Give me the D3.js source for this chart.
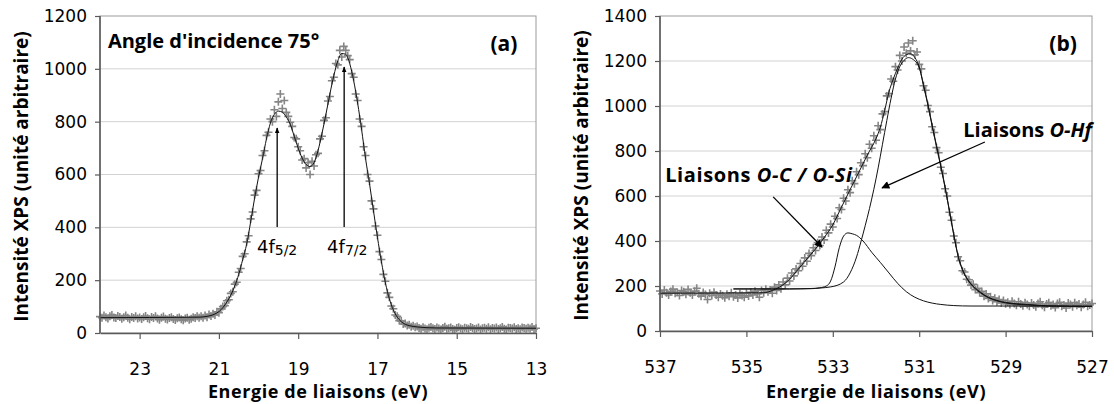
<!DOCTYPE html>
<html>
<head>
<meta charset="utf-8">
<script src="https://cdn.jsdelivr.net/npm/d3@7"></script>
<style>
  body { margin: 0; background: #fff; }
  .tick text { font-family: "DejaVu Sans", Verdana, sans-serif; font-size: 17px; fill: #000; }
  .lbl { font-family: "Open Sans", sans-serif; font-weight: 700; fill: #000; }
  .num { font-family: "DejaVu Sans", Verdana, sans-serif; fill: #000; }
</style>
</head>
<body>
<svg id="chart" width="1114" height="404"></svg>
<script>
// ---- panel (a) : Hf 4f ----
var aStart = 24, aStep = 0.05;   // energy grid of the measured points (eV)
var aCounts = [
  62, 58, 66, 60, 55, 63, 68, 59, 57, 64, 61, 54, 60, 66, 58, 52, 61, 57, 63, 55,
  59, 53, 60, 64, 56, 52, 61, 57, 63, 55, 50, 58, 62, 54, 51, 57, 60, 53, 49, 56,
  59, 52, 48, 55, 58, 50, 54, 60, 57, 63, 58,
  63, 58, 66, 60, 70, 64, 73, 68, 80, 77, 92, 100, 103, 122, 126, 150, 156, 185, 192, 230,
  244, 290, 300, 345, 368, 432, 458, 522, 540, 603, 615, 672, 690, 748, 760, 810, 800, 845, 820, 875,
  905, 850, 880, 835, 820, 798, 782, 740, 735, 705, 690, 655, 660, 625, 645, 600, 650, 632, 675, 680,
  735, 745, 805, 815, 878, 895, 955, 968, 1020, 1015, 1070, 1045, 1085, 1070, 1050, 1035, 982, 968, 905, 880,
  810, 782, 705, 672, 600, 575, 500, 470, 405, 370, 308, 278, 222, 196, 152, 135, 102, 92, 68, 63,
  47, 45, 34, 36, 28, 31, 24, 27, 22, 25,
  19, 16, 22, 17, 14, 20, 23, 18, 15, 21, 17, 13, 19, 24, 16, 18, 21, 15, 12, 19,
  22, 17, 14, 20, 18, 16, 23, 19, 15, 17, 21, 13, 18, 20, 16, 22, 14, 19, 17, 21,
  15, 18, 23, 16, 13, 20, 19, 17, 22, 15, 18, 14, 21, 19, 16, 20, 17, 23, 15, 18
];
var aFitE = [24, 21.5, 21.3, 21.1, 21.0, 20.9, 20.8, 20.7, 20.6, 20.5, 20.4, 20.3, 20.2, 20.1, 20.0,
  19.9, 19.8, 19.7, 19.6, 19.5, 19.4, 19.3, 19.2, 19.1, 19.0, 18.9, 18.8, 18.7, 18.6, 18.5, 18.4, 18.3,
  18.2, 18.1, 18.0, 17.9, 17.8, 17.7, 17.6, 17.5, 17.4, 17.3, 17.2, 17.1, 17.0, 16.9, 16.8, 16.7, 16.6,
  16.5, 16.4, 16.3, 16.2, 16.0, 15.5, 13];
var aFitI = [58, 60, 63, 72, 81, 96, 117, 143, 178, 222, 278, 336, 420, 510, 590,
  660, 735, 795, 828, 840, 836, 818, 790, 745, 700, 662, 638, 630, 645, 690, 755, 828,
  905, 975, 1030, 1058, 1055, 1020, 955, 870, 770, 660, 565, 462, 362, 270, 190, 130, 88,
  60, 43, 33, 28, 23, 19, 18];
var aXTicks = [23, 21, 19, 17, 15, 13];
var aYTicks = [0, 200, 400, 600, 800, 1000, 1200];

// ---- panel (b) : O 1s ----
var bStart = 537, bStep = 0.05;
var bCounts = [
  178, 165, 182, 170, 160, 176, 186, 168, 172, 158, 180, 174, 163, 185, 170, 160, 177, 190, 166, 155,
  171, 162, 140, 168, 158, 172, 160, 150, 165, 157, 148, 163, 155, 170, 152, 160, 147, 166, 158, 150,
  168, 156, 172, 160, 177, 165, 150, 180, 170, 186, 174,
  182, 168, 195, 180, 205, 188, 218, 205, 235, 222, 258, 245, 276, 268, 300, 288, 325, 310, 345, 335,
  370, 358, 392, 380, 418, 405, 448, 436, 475, 462, 510, 500, 548, 540, 590, 578, 628, 615, 668, 655,
  708, 695, 748, 735, 788, 770, 830, 812, 868, 848, 912, 895, 965, 975, 1045, 1055, 1120, 1110, 1175, 1160,
  1225, 1200, 1262, 1235, 1280, 1245, 1290, 1228, 1240, 1185, 1165, 1090, 1070, 1002, 975, 908, 882, 815, 792, 728,
  700, 632, 600, 528, 492, 422, 392, 330, 312, 268, 262, 230, 228, 204, 208, 184, 190, 170, 176, 155,
  165, 145, 152, 136, 146, 130, 140, 125, 136, 121,
  128, 118, 132, 122, 115, 130, 120, 112, 126, 118, 110, 124, 116, 108, 122, 130, 114, 106, 120, 126,
  112, 118, 104, 122, 128, 110, 116, 102, 124, 118, 108, 126, 114, 120, 106, 118, 128, 110, 116, 122
];
var bFitE = [537, 534.6, 534.4, 534.2, 534.0, 533.8, 533.6, 533.4, 533.2, 533.0, 532.8, 532.6, 532.4,
  532.2, 532.0, 531.9, 531.8, 531.7, 531.6, 531.5, 531.4, 531.3, 531.2, 531.1, 531.0, 530.9, 530.8,
  530.7, 530.6, 530.5, 530.4, 530.3, 530.2, 530.1, 530.0, 529.9, 529.8, 529.6, 529.4, 529.2, 529.0,
  528.5, 528, 527];
var bFitI = [168, 170, 180, 199, 230, 275, 320, 365, 415, 472, 550, 628, 705,
  782, 855, 905, 980, 1062, 1120, 1168, 1208, 1228, 1232, 1215, 1175, 1095, 1010,
  915, 825, 735, 640, 535, 430, 335, 275, 236, 210, 175, 150, 136, 127,
  118, 112, 110];
// component O-C / O-Si
var ocE = [535.3, 534.0, 533.5, 533.3, 533.15, 533.05, 532.95, 532.85, 532.75, 532.65, 532.55, 532.45,
  532.3, 532.1, 531.9, 531.7, 531.5, 531.3, 531.1, 530.9, 530.7, 530.5, 530.2, 529.8, 529.1, 527];
var ocI = [187, 187, 188, 192, 200, 222, 285, 370, 422, 436, 432, 425,
  400, 350, 305, 258, 212, 175, 150, 134, 124, 118, 113, 111, 111, 110];
// component O-Hf
var ohE = [535.3, 534.0, 533.5, 533.05, 532.75, 532.6, 532.45, 532.35, 532.25, 532.15, 532.05, 531.95,
  531.85, 531.75, 531.65, 531.55, 531.45, 531.35, 531.25, 531.15, 531.0, 530.9, 530.8, 530.7, 530.6,
  530.5, 530.4, 530.3, 530.2, 530.1, 530.0, 529.9, 529.8, 529.6, 529.4, 529.2, 529.0, 528.5, 528, 527];
var ohI = [187, 187, 189, 196, 218, 258, 329, 396, 468, 545, 630, 725,
  830, 935, 1035, 1120, 1175, 1203, 1215, 1208, 1170, 1090, 1005, 910, 820,
  730, 636, 532, 427, 332, 272, 233, 207, 172, 148, 134, 125, 116, 111, 109];
var bXTicks = [537, 535, 533, 531, 529, 527];
var bYTicks = [0, 200, 400, 600, 800, 1000, 1200, 1400];

var svg = d3.select("#chart");

// arrow heads
var defs = svg.append("defs");
defs.append("marker").attr("id", "headS")
  .attr("viewBox", "0 0 10 10").attr("refX", 9).attr("refY", 5)
  .attr("markerWidth", 6).attr("markerHeight", 6).attr("markerUnits", "userSpaceOnUse")
  .attr("orient", "auto")
  .append("path").attr("d", "M0,1L10,5L0,9z").attr("fill", "#000");
defs.append("marker").attr("id", "headB")
  .attr("viewBox", "0 0 10 10").attr("refX", 9).attr("refY", 5)
  .attr("markerWidth", 10).attr("markerHeight", 8).attr("markerUnits", "userSpaceOnUse")
  .attr("orient", "auto")
  .append("path").attr("d", "M0,0L10,5L0,10z").attr("fill", "#000");

function drawPanel(p) {
  var x = d3.scaleLinear().domain(p.xDomain).range([p.left, p.right]);
  var y = d3.scaleLinear().domain([0, p.yMax]).range([p.bottom, p.top]);
  var g = svg.append("g");

  // gridlines
  g.selectAll("line.grid")
    .data(p.yTicks.filter(function(v) { return v > 0 && v < p.yMax; }))
    .enter().append("line")
    .attr("class", "grid")
    .attr("x1", p.left).attr("x2", p.right)
    .attr("y1", function(d) { return y(d); }).attr("y2", function(d) { return y(d); })
    .attr("stroke", "#d2d2d2").attr("stroke-width", 1);

  // plot area border
  g.append("rect")
    .attr("x", p.left).attr("y", p.top)
    .attr("width", p.right - p.left).attr("height", p.bottom - p.top)
    .attr("fill", "none").attr("stroke", "#9a9a9a").attr("stroke-width", 1);

  // measured points
  var pts = p.counts.map(function(v, i) { return [p.start - i * p.step, v]; });
  g.selectAll("path.pt").data(pts).enter().append("path")
    .attr("class", "pt")
    .attr("transform", function(d) { return "translate(" + x(d[0]) + "," + y(d[1]) + ")"; })
    .attr("d", "M-4,0H4M0,-4V4")
    .attr("stroke", "#858585").attr("stroke-width", 1.6).attr("fill", "none");

  // fitted curves
  var line = d3.line()
    .x(function(d) { return x(d[0]); })
    .y(function(d) { return y(d[1]); })
    .curve(d3.curveMonotoneX);
  p.curves.forEach(function(c) {
    var data = c.e.map(function(e, i) { return [e, c.i[i]]; });
    g.append("path").datum(data)
      .attr("d", line)
      .attr("fill", "none").attr("stroke", "#111").attr("stroke-width", 1);
  });

  // axes
  var yAxis = d3.axisLeft(y).tickValues(p.yTicks).tickFormat(d3.format("d"))
    .tickSize(5).tickPadding(8);
  var ya = g.append("g").attr("transform", "translate(" + p.left + ",0)").call(yAxis);
  var xAxis = d3.axisBottom(x).tickValues(p.xTicks).tickFormat(d3.format("d"))
    .tickSize(6).tickPadding(24).tickSizeOuter(0);
  var xa = g.append("g").attr("transform", "translate(0," + p.bottom + ")").call(xAxis);
  [ya, xa].forEach(function(a) {
    a.select(".domain").attr("stroke", "#5a5a5a").attr("stroke-width", 1.6);
    a.selectAll(".tick line").attr("stroke", "#5a5a5a").attr("stroke-width", 1.2);
  });
  ya.select(".domain").attr("d", "M0," + p.top + "V" + p.bottom);

  // axis titles
  g.append("text").attr("class", "lbl")
    .attr("x", (p.left + p.right) / 2).attr("y", 398)
    .attr("text-anchor", "middle").style("font-size", "18px").style("letter-spacing", "0.6px")
    .text("Energie de liaisons (eV)");
  g.append("text").attr("class", "lbl")
    .attr("transform", "translate(" + p.yTitleX + "," + ((p.top + p.bottom) / 2 + 2) + ") rotate(-90)")
    .attr("text-anchor", "middle").style("font-size", "19px")
    .text("Intensité XPS (unité arbitraire)");

  // panel letter
  g.append("text").attr("class", "lbl")
    .attr("x", x(p.letterAt[0])).attr("y", y(p.letterAt[1]))
    .attr("text-anchor", "middle").style("font-size", "21px")
    .text(p.letter);

  p.extra(g, x, y);
}

drawPanel({
  left: 100, right: 536, top: 16, bottom: 333,
  xDomain: [24, 13], yMax: 1200,
  xTicks: aXTicks, yTicks: aYTicks,
  start: aStart, step: aStep, counts: aCounts,
  curves: [{ e: aFitE, i: aFitI }],
  yTitleX: 28, letter: "(a)", letterAt: [13.81, 1067],
  extra: function(g, x, y) {
    g.append("text").attr("class", "lbl")
      .attr("x", x(23.8)).attr("y", y(1079)).style("font-size", "20px")
      .text("Angle d'incidence 75°");
    // peak arrows
    [[19.53, 776], [17.84, 1007]].forEach(function(a) {
      g.append("line")
        .attr("x1", x(a[0])).attr("x2", x(a[0]))
        .attr("y1", y(401)).attr("y2", y(a[1]))
        .attr("stroke", "#000").attr("stroke-width", 1.3)
        .attr("marker-end", "url(#headS)");
    });
    [[20.04, "5/2"], [18.27, "7/2"]].forEach(function(l) {
      var t = g.append("text").attr("class", "num")
        .attr("x", x(l[0])).attr("y", y(303)).style("font-size", "18px");
      t.append("tspan").text("4f");
      t.append("tspan").attr("dy", 2).style("font-size", "14px").text(l[1]);
    });
  }
});

drawPanel({
  left: 660, right: 1092, top: 16, bottom: 331,
  xDomain: [537, 527], yMax: 1400,
  xTicks: bXTicks, yTicks: bYTicks,
  start: bStart, step: bStep, counts: bCounts,
  curves: [{ e: bFitE, i: bFitI }, { e: ocE, i: ocI }, { e: ohE, i: ohI }],
  yTitleX: 588, letter: "(b)", letterAt: [527.67, 1244],
  extra: function(g, x, y) {
    var t1 = g.append("text").attr("class", "lbl")
      .attr("x", x(536.88)).attr("y", y(662)).style("font-size", "20px")
      .style("letter-spacing", "0.6px");
    t1.append("tspan").text("Liaisons ");
    t1.append("tspan").style("font-style", "italic").text("O-C / O-Si");
    var t2 = g.append("text").attr("class", "lbl")
      .attr("x", x(527.0)).attr("y", y(862)).attr("text-anchor", "end").style("font-size", "20px");
    t2.append("tspan").text("Liaisons ");
    t2.append("tspan").style("font-style", "italic").text("O-Hf");
    [[534.38, 596, 533.25, 373], [529.48, 840, 531.86, 636]].forEach(function(a) {
      g.append("line")
        .attr("x1", x(a[0])).attr("y1", y(a[1]))
        .attr("x2", x(a[2])).attr("y2", y(a[3]))
        .attr("stroke", "#000").attr("stroke-width", 1.3)
        .attr("marker-end", "url(#headB)");
    });
  }
});
</script>
</body>
</html>
